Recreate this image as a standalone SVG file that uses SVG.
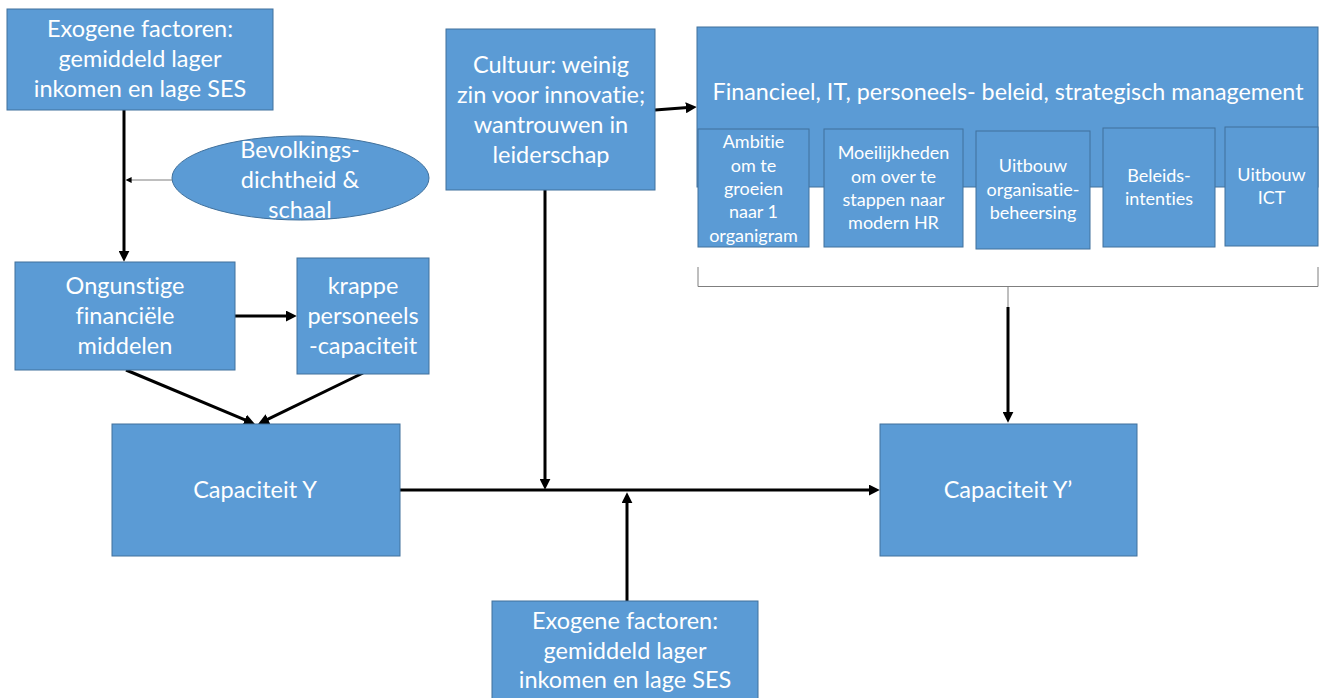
<svg xmlns="http://www.w3.org/2000/svg" width="1322" height="698" viewBox="0 0 1322 698">
  <style>
    .box { fill: #5b9bd5; stroke: #41719c; stroke-width: 1; }
    .t { font-family: Lato, "Open Sans", "Liberation Sans", sans-serif; fill: #ffffff; text-anchor: middle; font-size: 23.5px; font-variant-ligatures: none; }
    .s { font-size: 18px; }
    .m { font-size: 22.5px; }
    .c { fill: none; stroke: #000000; stroke-width: 3; }
    .thin { fill: none; stroke: #7f7f7f; stroke-width: 1; }
  </style>
  <defs>
    <marker id="arrow" viewBox="0 0 10 10" refX="2" refY="5" markerUnits="userSpaceOnUse" markerWidth="11" markerHeight="11" orient="auto">
      <path d="M0,0 L10,5 L0,10 z" fill="#000000"/>
    </marker>
    <marker id="arrowSmall" viewBox="0 0 10 10" refX="1" refY="5" markerUnits="userSpaceOnUse" markerWidth="6" markerHeight="6" orient="auto">
      <path d="M0,0 L10,5 L0,10 z" fill="#000000"/>
    </marker>
  </defs>

  <!-- connectors -->
  <g id="connectors">
    <line class="c" x1="124" y1="110" x2="124" y2="253" marker-end="url(#arrow)"/>
    <line class="thin" x1="172" y1="180" x2="131" y2="180" marker-end="url(#arrowSmall)"/>
    <line class="c" x1="235" y1="316" x2="288" y2="316" marker-end="url(#arrow)"/>
    <line class="c" x1="126" y1="370" x2="246.8" y2="420.6" marker-end="url(#arrow)"/>
    <line class="c" x1="363" y1="373" x2="266" y2="420.2" marker-end="url(#arrow)"/>
    <line class="c" x1="655" y1="110" x2="688" y2="107.6" marker-end="url(#arrow)"/>
    <line class="c" x1="545" y1="190" x2="545" y2="481" marker-end="url(#arrow)"/>
    <line class="c" x1="627" y1="601" x2="627" y2="501" marker-end="url(#arrow)"/>
    <line class="c" x1="400" y1="490" x2="871" y2="490" marker-end="url(#arrow)"/>
    <!-- bracket under the policy block -->
    <path class="thin" d="M698,267 L698,286.5 L1318,286.5 L1318,267"/>
    <line class="thin" x1="1008" y1="286" x2="1008" y2="307"/>
    <line class="c" x1="1008" y1="307" x2="1008" y2="414" marker-end="url(#arrow)"/>
  </g>

  <g id="exogeen-boven">
    <rect class="box" x="7" y="9" width="266" height="101"/>
    <text class="t" x="140" y="37">Exogene factoren:</text>
    <text class="t" x="140" y="67">gemiddeld lager</text>
    <text class="t" x="140" y="97">inkomen en lage SES</text>
  </g>

  <g id="bevolking">
    <ellipse class="box" cx="300.5" cy="178" rx="128.5" ry="42"/>
    <text class="t" x="300" y="158">Bevolkings-</text>
    <text class="t" x="300" y="188">dichtheid &amp;</text>
    <text class="t" x="300" y="218">schaal</text>
  </g>

  <g id="ongunstig">
    <rect class="box" x="15" y="262" width="220" height="108"/>
    <text class="t" x="125" y="294">Ongunstige</text>
    <text class="t" x="125" y="324">financiële</text>
    <text class="t" x="125" y="354">middelen</text>
  </g>

  <g id="krappe">
    <rect class="box" x="297" y="258" width="132" height="116"/>
    <text class="t" x="363" y="294">krappe</text>
    <text class="t" x="363" y="324">personeels</text>
    <text class="t" x="363" y="354">-capaciteit</text>
  </g>

  <g id="capaciteit-y">
    <rect class="box" x="112" y="424" width="288" height="132"/>
    <text class="t" x="255" y="498">Capaciteit Y</text>
  </g>

  <g id="cultuur">
    <rect class="box" x="446" y="29" width="209" height="161"/>
    <text class="t" x="551" y="73">Cultuur: weinig</text>
    <text class="t" x="551" y="103">zin voor innovatie;</text>
    <text class="t" x="551" y="133">wantrouwen in</text>
    <text class="t" x="551" y="163">leiderschap</text>
  </g>

  <g id="beleid">
    <rect class="box" x="697" y="27" width="621" height="160"/>
    <text class="t m" x="1008" y="100" textLength="591" lengthAdjust="spacingAndGlyphs">Financieel, IT, personeels- beleid, strategisch management</text>
  </g>

  <g id="ambitie">
    <rect class="box" x="698" y="129" width="111" height="118"/>
    <text class="t s" x="753.5" y="148">Ambitie</text>
    <text class="t s" x="753.5" y="172">om te</text>
    <text class="t s" x="753.5" y="195">groeien</text>
    <text class="t s" x="753.5" y="218">naar 1</text>
    <text class="t s" x="753.5" y="242">organigram</text>
  </g>

  <g id="moeilijkheden">
    <rect class="box" x="824" y="129" width="139" height="118"/>
    <text class="t s" x="893.5" y="159">Moeilijkheden</text>
    <text class="t s" x="893.5" y="183">om over te</text>
    <text class="t s" x="893.5" y="206">stappen naar</text>
    <text class="t s" x="893.5" y="229">modern HR</text>
  </g>

  <g id="organisatiebeheersing">
    <rect class="box" x="976" y="131" width="114" height="118"/>
    <text class="t s" x="1033" y="172">Uitbouw</text>
    <text class="t s" x="1033" y="196">organisatie-</text>
    <text class="t s" x="1033" y="219">beheersing</text>
  </g>

  <g id="beleidsintenties">
    <rect class="box" x="1103" y="128" width="112" height="119"/>
    <text class="t s" x="1159" y="182">Beleids-</text>
    <text class="t s" x="1159" y="205">intenties</text>
  </g>

  <g id="ict">
    <rect class="box" x="1225" y="127" width="93" height="119"/>
    <text class="t s" x="1271.5" y="181">Uitbouw</text>
    <text class="t s" x="1271.5" y="204">ICT</text>
  </g>

  <g id="capaciteit-y-accent">
    <rect class="box" x="880" y="424" width="257" height="132"/>
    <text class="t" x="1008" y="498">Capaciteit Y’</text>
  </g>

  <g id="exogeen-onder">
    <rect class="box" x="492" y="601" width="266" height="110"/>
    <text class="t" x="625" y="629">Exogene factoren:</text>
    <text class="t" x="625" y="659">gemiddeld lager</text>
    <text class="t" x="625" y="688">inkomen en lage SES</text>
  </g>
</svg>
